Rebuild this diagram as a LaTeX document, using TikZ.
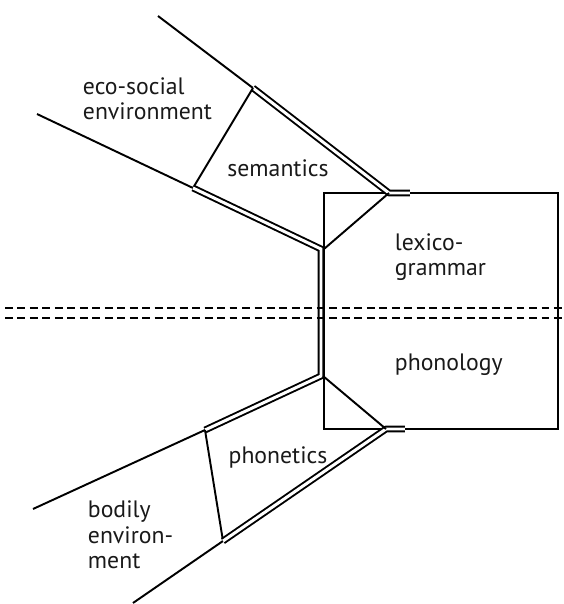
\documentclass[tikz,border=0pt]{standalone}
\usepackage{fontspec}
\setmainfont{PT Sans}
\usetikzlibrary{calc}
\tikzset{
         dbl/.style={double,double distance=1.7pt,line width=1.1pt},
         dashrule/.style={dash pattern=on 4.5pt off 2.6pt,line width=1.1pt},
         lbl/.style={font=\fontsize{13.5}{14.5}\selectfont,align=left,text=black!90,inner sep=0pt}
        }
\begin{document}
\begin{tikzpicture}[line width=1.1pt]
\useasboundingbox(0,0)rectangle(11.28,12.08);
%strata box
\draw[](6.48,8.22)rectangle(11.16,3.50);
%content plane
\draw[](3.16,11.76)--(5.06,10.32);
\draw[dbl,line join=round](5.06,10.32)--(7.78,8.22)--(8.2,8.22);
\draw[](0.74,9.80)--(3.86,8.32);
\draw[](5.06,10.32)--(3.86,8.32);
\draw[](7.78,8.22)--(6.48,7.10);
%expression plane
\draw[dbl,line join=miter](3.86,8.32)--(6.42,7.10)--(6.42,4.56)--(4.10,3.48);
\draw[](0.66,1.90)--(4.10,3.48);
\draw[](4.10,3.48)--(4.46,1.26);
\draw[](2.66,0.02)--(4.46,1.26);
\draw[dbl,line join=round](4.46,1.26)--(7.72,3.50)--(8.1,3.50);
\draw[](6.46,4.56)--(7.72,3.50);
%stratification line
\draw[dashrule](0.1,5.92)--(11.28,5.92);
\draw[dashrule](0.1,5.72)--(11.28,5.72);
%labels
\node[lbl,anchor=west](eco)at(1.64,10.10){eco-social\\environment};
\node[lbl](sem)at(5.56,8.72){semantics};
\node[lbl,anchor=west](lex)at(7.88,6.94){lexico-\\grammar};
\node[lbl,anchor=west](pho)at(7.88,4.78){phonology};
\node[lbl](phn)at(5.56,2.94){phonetics};
\node[lbl,anchor=west](bod)at(1.74,1.38){bodily\\environ-\\ment};
\end{tikzpicture}
\end{document}
